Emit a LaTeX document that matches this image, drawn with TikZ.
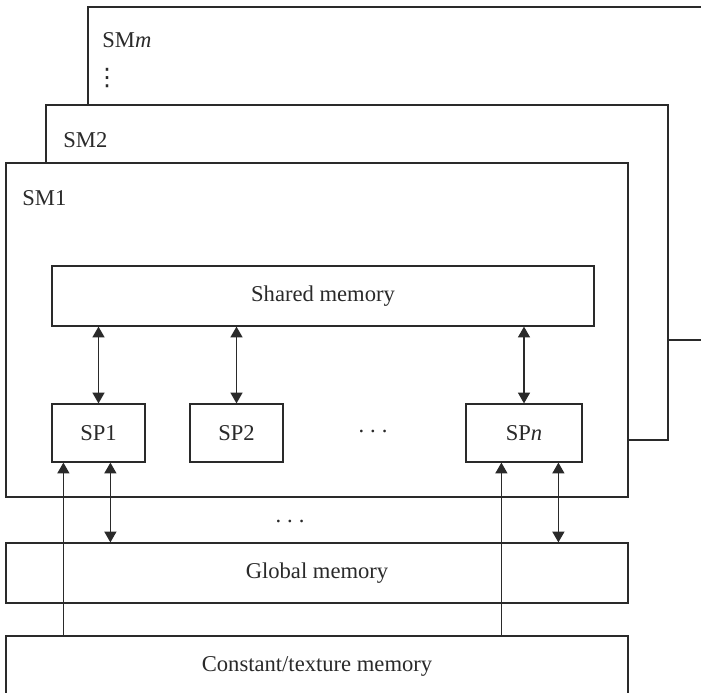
\documentclass[tikz,border=0pt]{standalone}
\usepackage{fontspec}
\setmainfont{Liberation Serif}
\newfontfamily\dotsfont{DejaVu Sans}
\usetikzlibrary{arrows.meta,fit,calc}
\definecolor{ink}{HTML}{2A2A2A}
\begin{document}
\begin{tikzpicture}[x=0.5pt,y=-0.5pt,
  font=\fontsize{11.3}{13.5}\selectfont,
  box/.style={draw=ink, line width=0.6pt, fill=white, inner sep=0pt},
  lbl/.style={inner sep=0pt, text=ink},
  tip/.tip={Triangle[length=5.4pt,width=6pt]},
  link/.style={draw=ink, line width=0.7pt, -tip},
  both/.style={draw=ink, line width=0.7pt, tip-tip}]
\useasboundingbox (0,0) rectangle (701,692);
\clip (0,0) rectangle (701,692);

% stacked streaming multiprocessors, back to front
\node[box, fit={(88,7) (760,340)}] (smm) {};
\node[box, fit={(46,105) (668,440)}] (sm2) {};
\node[box, fit={(6,163) (628,497)}] (sm1) {};

\node[lbl, anchor=base west] (lsmm) at (102,47) {SM\textit{m}};
\node[lbl] (vd) at (107,78) {\dotsfont\fontsize{12}{14}\selectfont ⋮};
\node[lbl, anchor=base west] (lsm2) at (63,147) {SM2};
\node[lbl, anchor=base west] (lsm1) at (22,205) {SM1};

% inside SM1
\node[box, fit={(52,266) (594,326)}] (sh) {};
\node[box, fit={(52,404) (145,462)}] (sp1) {};
\node[box, fit={(190,404) (283,462)}] (sp2) {};
\node[box, fit={(466,404) (582,462)}] (spn) {};
\node[lbl] (tsh) at (sh.center) {Shared memory};
\node[lbl] (tsp1) at (sp1.center) {SP1};
\node[lbl] (tsp2) at (sp2.center) {SP2};
\node[lbl] (tspn) at (spn.center) {SP\textit{n}};
\node[lbl] (hd) at (373,431) {.\kern3pt.\kern3pt.};

% device memories
\node[box, fit={(6,543) (628,603)}] (gm) {};
\node[box, fit={(6,636) (628,730)}] (cm) {};
\node[lbl] (tgm) at (gm.center) {Global memory};
\node[lbl] (tcm) at (317,666) {Constant/texture memory};
\node[lbl] (vd2) at (290,521) {.\kern3pt.\kern3pt.};

% shared memory <-> processors
\draw[both] (sh.south -| sp1.north) -- (sp1.north);
\draw[both] (sh.south -| sp2.north) -- (sp2.north);
\draw[both] (sh.south -| spn.north) -- (spn.north);

% processors <-> global memory, constant memory -> processors
\coordinate (c1) at ($(sp1.south west)+(12,0)$);
\coordinate (g1) at ($(sp1.south west)+(59,0)$);
\coordinate (cn) at ($(spn.south west)+(36,0)$);
\coordinate (gn) at ($(spn.south west)+(93,0)$);
\draw[link] (cm.north -| c1) -- (c1);
\draw[both] (g1) -- (gm.north -| g1);
\draw[link] (cm.north -| cn) -- (cn);
\draw[both] (gn) -- (gm.north -| gn);
\end{tikzpicture}
\end{document}
